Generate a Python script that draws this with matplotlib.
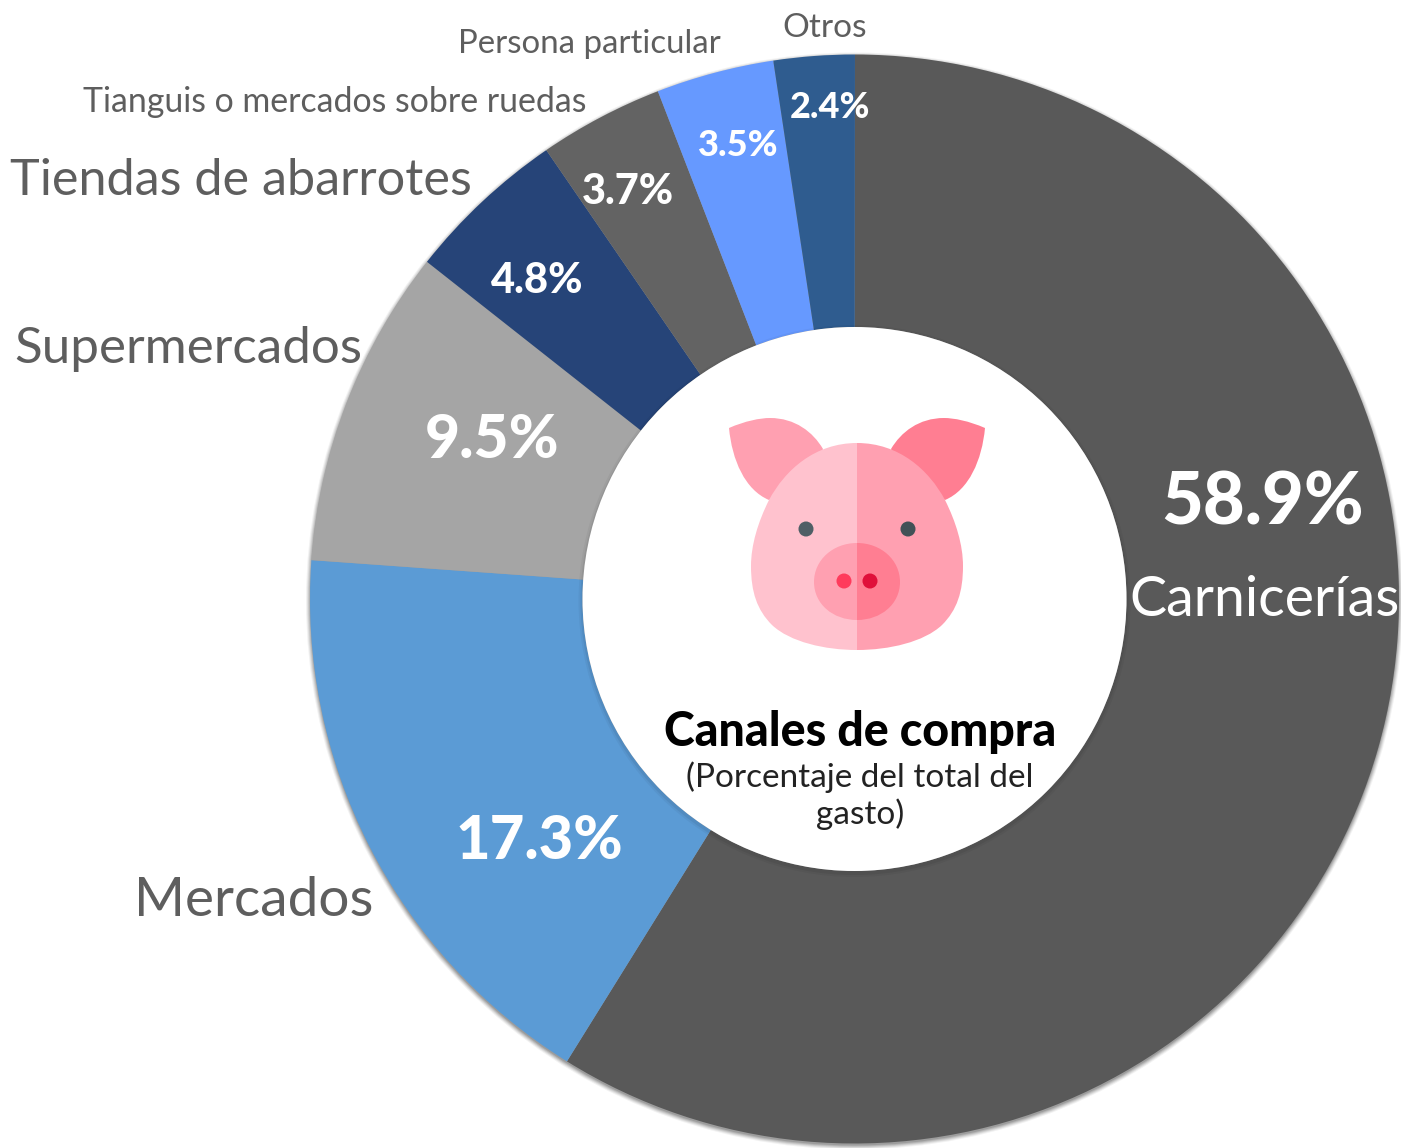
import numpy as np
import matplotlib.pyplot as plt
from matplotlib.patches import Circle, PathPatch
from matplotlib.path import Path

plt.rcParams["font.family"] = ["Lato", "DejaVu Sans"]

# datos
canales = ["Carnicerías", "Mercados", "Supermercados", "Tiendas de abarrotes",
           "Tianguis o mercados sobre ruedas", "Persona particular", "Otros"]
valores = [58.9, 17.3, 9.5, 4.8, 3.7, 3.5, 2.4]
colores = ["#595959", "#5B9BD5", "#A5A5A5", "#264478", "#636363", "#6699FF", "#2F5C8F"]
etiquetas = ["58.9%", "17.3%", "9.5%", "4.8%", "3.7%", "3.5%", "2.4%"]

W, H = 1401, 1148
fig = plt.figure(figsize=(W / 100, H / 100), dpi=100)

cx, cy, R = 854.5, 599, 544.5
r_in = 272

# sombra exterior, abajo del pie
fondo = fig.add_axes([0, 0, 1, 1])
fondo.set_xlim(0, W)
fondo.set_ylim(H, 0)
fondo.axis("off")
for i, a in zip([4, 3, 2, 1, 0], [0.05, 0.07, 0.09, 0.11, 0.13]):
    fondo.add_patch(Circle((cx, cy + 2), R + i, color="black", alpha=a, lw=0))

ax_pie = fig.add_axes([(cx - R) / W, 1 - (cy + R) / H, 2 * R / W, 2 * R / H])
ax_pie.pie(valores, colors=colores, startangle=89.95, counterclock=False, radius=1,
           wedgeprops=dict(width=1 - r_in / R, linewidth=0))
ax_pie.set_xlim(-1, 1)
ax_pie.set_ylim(-1, 1)
ax_pie.set_aspect("auto")
ax_pie.patch.set_alpha(0)

# capa de arriba para textos y cerdito
top = fig.add_axes([0, 0, 1, 1])
top.set_xlim(0, W)
top.set_ylim(H, 0)
top.axis("off")
top.patch.set_alpha(0)

# sombra del centro
for i, a in zip([4, 2], [0.04, 0.06]):
    top.add_patch(Circle((cx, cy + 2), r_in + i, color="black", alpha=a, lw=0))
top.add_patch(Circle((cx, cy), r_in, color="white", lw=0))

# textos grises
gris = "#5E5E5E"
top.text(1264, 600, canales[0], color="white", fontsize=40, ha="center", va="center")
top.text(254, 900, canales[1], color=gris, fontsize=39.6, ha="center", va="center")
top.text(188, 349, canales[2], color=gris, fontsize=36.8, ha="center", va="center")
top.text(241, 181, canales[3], color=gris, fontsize=36.3, ha="center", va="center")
top.text(335, 102, canales[4], color=gris, fontsize=24.4, ha="center", va="center")
top.text(589, 44, canales[5], color=gris, fontsize=23.8, ha="center", va="center")
top.text(825, 28, canales[6], color=gris, fontsize=24, ha="center", va="center")

# porcentajes
pos = [(1263, 504, 52), (539, 841, 43), (492, 440, 43.5), (537, 281, 30), (628, 192, 30), (738, 145, 26), (830, 107, 26)]
for t, (x, y, fs) in zip(etiquetas, pos):
    top.text(x, y, t, color="white", fontsize=fs, fontweight="black", ha="center", va="center")

# centro
top.text(860, 732, "Canales de compra", color="black", fontsize=33.5, fontweight="black", ha="center", va="center")
top.text(860, 777, "(Porcentaje del total del", color="#222222", fontsize=24, ha="center", va="center")
top.text(860, 814, "gasto)", color="#222222", fontsize=24, ha="center", va="center")


def forma(pts, color):
    codes = [Path.MOVETO] + [Path.CURVE4] * (len(pts) - 1)
    top.add_patch(PathPatch(Path(pts, codes), facecolor=color, lw=0))


def espejo(pts):
    return [(2 * 857 - x, y) for x, y in pts]


rosa_claro = "#FFC2CE"
rosa = "#FFA0B1"
rosa_fuerte = "#FF7E92"

# orejas
oreja = [(729, 428), (745, 421), (760, 418), (770, 418), (795, 418), (813, 432), (823, 449),
         (815, 470), (790, 490), (769, 500), (745, 490), (732, 460), (729, 428)]
forma(oreja, rosa)
forma(espejo(oreja), rosa_fuerte)

# cara
cara = [(857, 443), (815, 443), (785, 470), (769, 500), (758, 522), (751, 545), (751, 566),
        (751, 592), (757, 610), (772, 625), (790, 642), (825, 650), (857, 650)]
forma(cara, rosa_claro)
forma(espejo(cara), rosa)

# hocico
hocico = [(857, 543), (833, 543), (814, 560), (814, 582), (814, 604), (833, 620), (857, 620)]
forma(hocico, rosa)
forma(espejo(hocico), rosa_fuerte)

top.add_patch(Circle((844, 581), 7.5, color="#FF3B5C", lw=0))
top.add_patch(Circle((870, 581), 7.5, color="#E0103A", lw=0))
top.add_patch(Circle((806, 529), 7.5, color="#4F5F66", lw=0))
top.add_patch(Circle((908, 529), 7.5, color="#425157", lw=0))

fig.savefig("out.png", dpi=100)
